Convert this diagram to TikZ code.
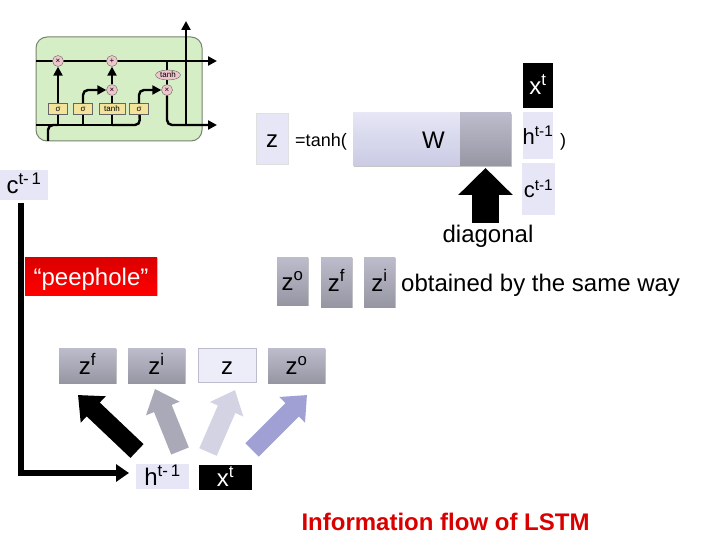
\documentclass[tikz,border=0pt]{standalone}
\usepackage{fontspec}
\setmainfont{Liberation Sans}
\usetikzlibrary{arrows.meta,shadows,shapes.geometric}
\definecolor{lilac}{HTML}{E6E6F6}
\definecolor{lilacdk}{HTML}{CACAE4}
\definecolor{mauve}{HTML}{BCBCCC}
\definecolor{leaf}{HTML}{D6EEC6}
\definecolor{sand}{HTML}{F4E39B}
\definecolor{petal}{HTML}{EFC6CB}

\begin{document}
\begin{tikzpicture}[x=1pt,y=-1pt,
  txt/.style={font=\fontsize{24}{24}\selectfont, inner sep=0pt, text height=18pt, text depth=0pt},
  flat/.style={txt, fill=lilac, text=black, minimum width=#1},
  dark/.style={txt, fill=black, text=white, minimum width=#1},
  btn/.style={txt, top color=mauve, bottom color=mauve!80!black, drop shadow={shadow xshift=0.6pt, shadow yshift=-1.2pt, fill=black!45}, minimum width=#1},
  core/.style={line width=2.4pt, -{Triangle[length=9pt,width=9pt]}},
  wire/.style={line width=2.4pt},
  gate/.style={draw=black!60, fill=sand, font=\fontsize{8}{8}\selectfont, inner sep=0pt, minimum height=11pt},
  op/.style={draw=black!60, fill=petal, circle, font=\fontsize{8}{8}\selectfont, inner sep=0pt, minimum size=11pt},
  blk/.style={line width=19pt, -{Triangle[length=21pt,width=35pt]}}]
\useasboundingbox (0,0) rectangle (720,540);

% small cell picture
\draw[draw=black!45!leaf, fill=leaf, line width=1pt, rounded corners=11pt] (36,37) rectangle (202,141);
\coordinate (inL) at (36,61);
\coordinate (outR) at (217,61);
\coordinate (hL) at (36,125);
\coordinate (hR) at (217,125);
\coordinate (hIn) at (48,141);
\coordinate (hTurn) at (48,125);
\coordinate (upA) at (186,125);
\coordinate (upB) at (186,21);
\coordinate (bendA) at (83,125);
\coordinate (bendB) at (140,125);
\coordinate (tapA) at (58,125);
\coordinate (tapB) at (112,125);
\coordinate (jn) at (167,61);
\draw[wire, rounded corners=5pt] (hIn) -- (hTurn) -- (tapA);
\draw[wire] (hL) -- (tapB);
\draw[wire, rounded corners=5pt] (tapB) -- (bendB) -- (139,104);
\draw[wire] (inL) -- (58,61);
\draw[wire] (58,61) -- (112,61);
\draw[core] (112,61) -- (outR);
\draw[core] (upA) -- (upB);
\draw[wire] (167,90) -- (jn);
\node[op] (m1) at (58,61) {×};
\node[op] (p1) at (112,61) {+};
\node[op] (m2) at (112,90) {×};
\node[op] (m3) at (167,90) {×};
\node[gate, minimum width=19pt] (s1) at (58,109) {σ};
\node[gate, minimum width=19pt] (s2) at (83,109) {σ};
\node[gate, minimum width=26pt] (t1) at (112,109) {tanh};
\node[gate, minimum width=19pt] (s3) at (139,109) {σ};
\draw[wire] (tapA) -- (s1);
\draw[core] (s1) -- (m1);
\draw[wire] (bendA) -- (s2);
\draw[core, rounded corners=5pt] (s2) |- (m2);
\draw[wire] (tapB) -- (t1);
\draw[wire] (t1) -- (m2);
\draw[core] (m2) -- (p1);
\draw[core, rounded corners=5pt] (s3) |- (m3);
\draw[core, rounded corners=5pt] (m3) |- (hR);
\node[op, ellipse, minimum width=25pt, minimum height=10pt] (t2) at (168,75) {tanh};

% equation
\node[dark=30pt, minimum height=45pt] (xA) at (538,85.5) {x\textsuperscript{t}};
\node[flat=30pt, minimum height=47pt, font=\fontsize{22}{22}\selectfont] (hA) at (538,135.5) {h\textsuperscript{t-1}};
\node[flat=33pt, minimum height=52pt, font=\fontsize{22}{22}\selectfont] (cA) at (538.5,189) {c\textsuperscript{t-1}};
\node[flat=32pt, draw=black!12, minimum height=51pt] (zA) at (272,138.5) {z};
\node[font=\fontsize{18}{18}\selectfont, inner sep=0pt] (eq) at (321,142) {=tanh(};
\node[txt, top color=lilac, bottom color=lilacdk, drop shadow={shadow xshift=0.6pt, shadow yshift=-1.2pt, fill=black!45}, minimum width=107pt, minimum height=53pt] (wA) at (406.5,139.5) {\hspace*{54pt}W};
\node[btn=51pt, minimum height=53pt] (wB) at (485.5,139.5) {};
\node[font=\fontsize{18}{18}\selectfont, inner sep=0pt] (cl) at (563,142) {)};
\node[txt] (dg) at (488,233) {diagonal};
\coordinate (dgTail) at (485.5,223);
\coordinate (dgTip) at (485.5,168);
\draw[line width=27pt, -{Triangle[length=27pt,width=53pt]}] (dgTail) -- (dgTip);

% peephole part
\node[flat=48pt, minimum height=30pt] (cB) at (24,185) {c\textsuperscript{t-\,1}};
\node[txt, text=white, top color=red!85!black, bottom color=red, minimum width=132pt, minimum height=38pt, drop shadow={shadow xshift=0.6pt, shadow yshift=-1pt, fill=black!35}] (pe) at (91,276) {“peephole”};
\node[btn=31pt, minimum height=48pt] (zo) at (292.5,281) {z\textsuperscript{o}};
\node[btn=31pt, minimum height=50pt] (zf) at (336.5,282) {z\textsuperscript{f}};
\node[btn=31pt, minimum height=50pt] (zi) at (379.5,282) {z\textsuperscript{i}};
\node[txt, anchor=west] (ob) at (401,282) {obtained by the same way};

% bottom row
\node[btn=57pt, minimum height=35pt] (rf) at (87.5,365.5) {z\textsuperscript{f}};
\node[btn=57pt, minimum height=35pt] (ri) at (156.5,365.5) {z\textsuperscript{i}};
\node[flat=58pt, draw=mauve, minimum height=34pt, fill=lilac!70] (rz) at (227,365.5) {z};
\node[btn=57pt, minimum height=35pt] (ro) at (296.5,365.5) {z\textsuperscript{o}};
\node[flat=53pt, minimum height=25pt] (hB) at (162.5,476.5) {h\textsuperscript{t-\,1}};
\node[dark=53pt, minimum height=25pt] (xB) at (225.5,477.5) {x\textsuperscript{t}};
\coordinate (aT) at (137,451);
\coordinate (aH) at (78,395);
\coordinate (bT) at (180,451);
\coordinate (bH) at (155,389);
\coordinate (cT) at (208,452);
\coordinate (cH) at (235,390);
\coordinate (dT) at (252,450);
\coordinate (dH) at (307,395);
\draw[blk] (aT) -- (aH);
\draw[blk, color=mauve!90!black] (bT) -- (bH);
\draw[blk, color=lilac!55!mauve] (cT) -- (cH);
\draw[blk, color=blue!15!mauve] (dT) -- (dH);

% long line from the left c
\coordinate (lnTop) at (21,203);
\coordinate (lnCorner) at (21,473);
\coordinate (lnEnd) at (129,473);
\draw[line width=6pt, -{Triangle[length=13pt,width=17pt]}] (lnTop) -- (lnCorner) -- (lnEnd);

\node[font=\fontsize{24}{24}\selectfont\bfseries, text=red!85!black, inner sep=0pt] (ti) at (445.5,522) {Information flow of LSTM};
\end{tikzpicture}
\end{document}
